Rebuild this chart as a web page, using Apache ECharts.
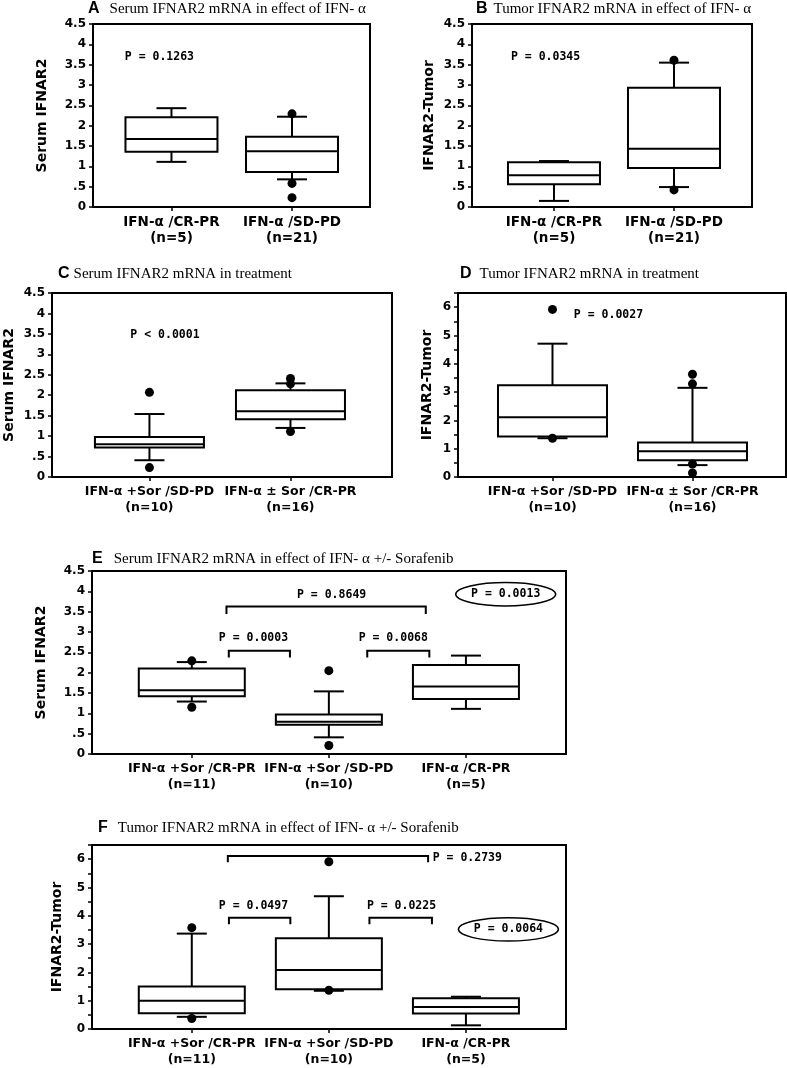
<!DOCTYPE html>
<html><head><meta charset="utf-8">
<script src="https://cdn.jsdelivr.net/npm/echarts@6/dist/echarts.min.js"></script>
<style>html,body{margin:0;padding:0;background:#fff}#chart{width:787px;height:1068px}</style>
</head><body><div id="chart"></div>
<script>
// ---------- tick labels ----------
const serumTicks = ['0', '.5', '1', '1.5', '2', '2.5', '3', '3.5', '4', '4.5'];
const tumorTicks = ['0', '', '1', '', '2', '', '3', '', '4', '', '5', '', '6', ''];

// ---------- categories ----------
const catsAB = ['IFN-α /CR-PR', 'IFN-α /SD-PD'];
const nAB = [5, 21];
const catsCD = ['IFN-α +Sor /SD-PD', 'IFN-α ± Sor /CR-PR'];
const nCD = [10, 16];
const catsEF = ['IFN-α +Sor /CR-PR', 'IFN-α +Sor /SD-PD', 'IFN-α /CR-PR'];
const nEF = [11, 10, 5];

// ---------- box statistics [min, Q1, median, Q3, max] ----------
const boxA = [[1.11, 1.36, 1.67, 2.21, 2.43], [0.68, 0.86, 1.37, 1.73, 2.22]];
const outA = [[1, 2.29], [1, 0.58], [1, 0.23]];
const boxB = [[0.15, 0.56, 0.78, 1.10, 1.13], [0.49, 0.96, 1.43, 2.93, 3.55]];
const outB = [[1, 3.61], [1, 0.42]];
const boxC = [[0.41, 0.72, 0.80, 0.98, 1.54], [1.20, 1.41, 1.61, 2.12, 2.29]];
const outC = [[0, 2.07], [0, 0.23], [1, 2.41], [1, 2.28], [1, 1.11]];
const boxD = [[1.37, 1.43, 2.11, 3.24, 4.71], [0.42, 0.59, 0.91, 1.22, 3.15]];
const outD = [[0, 5.92], [0, 1.37], [1, 3.63], [1, 3.29], [1, 0.46], [1, 0.14]];
const boxE = [[1.29, 1.42, 1.57, 2.10, 2.26], [0.41, 0.72, 0.79, 0.97, 1.54], [1.11, 1.35, 1.66, 2.19, 2.42]];
const outE = [[0, 2.29], [0, 1.15], [1, 2.05], [1, 0.21]];
const boxF = [[0.43, 0.56, 1.00, 1.50, 3.37], [1.35, 1.40, 2.08, 3.21, 4.69], [0.13, 0.55, 0.78, 1.09, 1.14]];
const outF = [[0, 3.58], [0, 0.37], [1, 5.91], [1, 1.37]];

// ---------- p-value annotations ----------
const pTextA = [['P = 0.1263', -0.10, 3.68]];
const pTextB = [['P = 0.0345', -0.07, 3.68]];
const pTextC = [['P < 0.0001', 0.11, 3.47]];
const pTextD = [['P = 0.0027', 0.40, 5.71]];
const pTextE = [['P = 0.8649', 1.02, 3.91], ['P = 0.0003', 0.45, 2.85], ['P = 0.0068', 1.47, 2.85]];
const pTextF = [['P = 0.2739', 2.01, 6.03], ['P = 0.0497', 0.45, 4.35], ['P = 0.0225', 1.53, 4.35]];
const pOvalE = [['P = 0.0013', 2.29, 3.93]];
const pOvalF = [['P = 0.0064', 2.31, 3.52]];
// brackets [x1, yTop, x2, yLeg]
const brE = [[0.253, 3.63, 1.707, 3.44], [0.27, 2.54, 0.716, 2.37], [1.28, 2.54, 1.733, 2.37]];
const brF = [[0.263, 6.11, 1.724, 5.89], [0.271, 3.93, 0.719, 3.70], [1.296, 3.93, 1.752, 3.70]];

// ---------- layout / style ----------
const panels = [
  {id:'A', title:'Serum IFNAR2 mRNA in effect of IFN- α', tx:88, ty:0, gap:10,
   grid:{left:93, top:24, width:277, height:183}, xr:[-0.651, 1.647], cats:catsAB, n:nAB,
   ymax:4.5, ticks:serumTicks, yname:'Serum IFNAR2', nameGap:44, box:boxA, out:outA, bw:92, lf:13.5,
   texts:pTextA},
  {id:'B', title:'Tumor IFNAR2 mRNA in effect of IFN- α', tx:476, ty:0, gap:6,
   grid:{left:472, top:24, width:280, height:183}, xr:[-0.683, 1.65], cats:catsAB, n:nAB,
   ymax:4.5, ticks:serumTicks, yname:'IFNAR2-Tumor', nameGap:36, box:boxB, out:outB, bw:92, lf:13.5,
   texts:pTextB},
  {id:'C', title:'Serum IFNAR2 mRNA in treatment', tx:58, ty:265, gap:4,
   grid:{left:52, top:293, width:340, height:184}, xr:[-0.691, 1.72], cats:catsCD, n:nCD,
   ymax:4.5, ticks:serumTicks, yname:'Serum IFNAR2', nameGap:36, box:boxC, out:outC, bw:109, lf:12.5,
   texts:pTextC},
  {id:'D', title:'Tumor IFNAR2 mRNA in treatment', tx:460, ty:265, gap:8,
   grid:{left:458, top:293, width:328, height:184}, xr:[-0.675, 1.668], cats:catsCD, n:nCD,
   ymax:6.5, ticks:tumorTicks, yname:'IFNAR2-Tumor', nameGap:24, box:boxD, out:outD, bw:109, lf:12.5,
   texts:pTextD},
  {id:'E', title:'Serum IFNAR2 mRNA in effect of IFN- α +/- Sorafenib', tx:92, ty:550, gap:11,
   grid:{left:92, top:571, width:474, height:183}, xr:[-0.728, 2.73], cats:catsEF, n:nEF,
   ymax:4.5, ticks:serumTicks, yname:'Serum IFNAR2', nameGap:44, box:boxE, out:outE, bw:106, lf:12.5,
   texts:pTextE, ovals:pOvalE, brackets:brE},
  {id:'F', title:'Tumor IFNAR2 mRNA in effect of IFN- α +/- Sorafenib', tx:98, ty:819, gap:10,
   grid:{left:92, top:845, width:474, height:184}, xr:[-0.728, 2.73], cats:catsEF, n:nEF,
   ymax:6.5, ticks:tumorTicks, yname:'IFNAR2-Tumor', nameGap:28, box:boxF, out:outF, bw:106, lf:12.5,
   texts:pTextF, ovals:pOvalF, brackets:brF}
];

const BLACK = '#000';
const SANS = 'DejaVu Sans';
const PFONT = 'bold 11.5px "DejaVu Sans Mono", "Liberation Mono", monospace';
const CAPW = 30;

function boxRenderer(boxW) {
  return function (params, api) {
    const x = api.value(0);
    const p = i => api.coord([x, api.value(i)]);
    const lo = p(1), q1 = p(2), md = p(3), q3 = p(4), hi = p(5);
    const cx = lo[0];
    const ls = {stroke: BLACK, lineWidth: 2, fill: null};
    return {type: 'group', children: [
      {type: 'line', shape: {x1: cx, y1: q3[1], x2: cx, y2: hi[1]}, style: ls},
      {type: 'line', shape: {x1: cx - CAPW / 2, y1: hi[1], x2: cx + CAPW / 2, y2: hi[1]}, style: ls},
      {type: 'line', shape: {x1: cx, y1: q1[1], x2: cx, y2: lo[1]}, style: ls},
      {type: 'line', shape: {x1: cx - CAPW / 2, y1: lo[1], x2: cx + CAPW / 2, y2: lo[1]}, style: ls},
      {type: 'rect', shape: {x: cx - boxW / 2, y: q3[1], width: boxW, height: q1[1] - q3[1]},
       style: {fill: '#fff', stroke: BLACK, lineWidth: 2}},
      {type: 'line', shape: {x1: cx - boxW / 2, y1: md[1], x2: cx + boxW / 2, y2: md[1]}, style: ls}
    ]};
  };
}

function textRenderer(list, oval) {
  return function (params, api) {
    const c = api.coord([api.value(0), api.value(1)]);
    const children = [];
    if (oval) {
      const rx = 50, ry = 11.7;
      const d = `M ${c[0] - rx} ${c[1]} A ${rx} ${ry} 0 1 0 ${c[0] + rx} ${c[1]} A ${rx} ${ry} 0 1 0 ${c[0] - rx} ${c[1]} Z`;
      children.push({type: 'path', shape: {pathData: d}, style: {fill: null, stroke: BLACK, lineWidth: 1.5}});
    }
    children.push({type: 'text', style: {text: list[params.dataIndex][0], x: c[0], y: c[1],
      align: 'center', verticalAlign: 'middle', font: PFONT, fill: BLACK}});
    return {type: 'group', children};
  };
}

function bracketRenderer(params, api) {
  const a = api.coord([api.value(0), api.value(3)]);
  const b = api.coord([api.value(0), api.value(1)]);
  const c = api.coord([api.value(2), api.value(1)]);
  const d = api.coord([api.value(2), api.value(3)]);
  return {type: 'polyline', shape: {points: [a, b, c, d]}, style: {stroke: BLACK, lineWidth: 2, fill: null}};
}

const option = {animation: false, backgroundColor: '#fff',
  title: [], grid: [], xAxis: [], yAxis: [], series: []};

panels.forEach((P, k) => {
  option.title.push({
    left: P.tx, top: P.ty, padding: 0,
    text: `{l|${P.id}}{t|${P.title}}`,
    textStyle: {fontWeight: 'normal', rich: {
      l: {fontFamily: 'Liberation Sans', fontWeight: 'bold', fontSize: 16, lineHeight: 18, padding: [0, P.gap, 0, 0], color: BLACK},
      t: {fontFamily: 'Liberation Serif', fontWeight: 'normal', fontSize: 15, lineHeight: 18, color: BLACK}
    }}
  });
  option.grid.push(Object.assign({show: true, borderColor: BLACK, borderWidth: 2, backgroundColor: 'transparent', containLabel: false}, P.grid));
  const idxs = P.cats.map((_, i) => i);
  option.xAxis.push({
    type: 'value', gridIndex: k, min: P.xr[0], max: P.xr[1],
    splitLine: {show: false},
    axisLine: {show: true, onZero: false, lineStyle: {color: BLACK, width: 2}},
    axisTick: {show: true, customValues: idxs, length: 4, lineStyle: {color: BLACK, width: 1.5}},
    axisLabel: {show: true, customValues: idxs, margin: 7, color: BLACK,
      fontFamily: SANS, fontWeight: 'bold', fontSize: P.lf, lineHeight: 16,
      formatter: v => { const i = Math.round(v); return P.cats[i] + '\n(n=' + P.n[i] + ')'; }}
  });
  option.yAxis.push({
    type: 'value', gridIndex: k, min: 0, max: P.ymax, interval: 0.5,
    splitLine: {show: false},
    axisLine: {show: true, onZero: false, lineStyle: {color: BLACK, width: 2}},
    axisTick: {show: true, length: 4, lineStyle: {color: BLACK, width: 1.5}},
    axisLabel: {color: BLACK, fontFamily: SANS, fontWeight: 'bold', fontSize: 12, margin: 7,
      formatter: v => { const t = P.ticks[Math.round(v / 0.5)]; return t == null ? '' : t; }},
    name: P.yname, nameLocation: 'middle', nameGap: P.nameGap,
    nameTextStyle: {color: BLACK, fontFamily: SANS, fontWeight: 'bold', fontSize: 14}
  });
  option.series.push({
    type: 'custom', xAxisIndex: k, yAxisIndex: k, renderItem: boxRenderer(P.bw),
    encode: {x: 0, y: [1, 2, 3, 4, 5]}, z: 2,
    data: P.box.map((s, i) => [i].concat(s))
  });
  option.series.push({
    type: 'scatter', xAxisIndex: k, yAxisIndex: k, symbol: 'circle', symbolSize: 9,
    itemStyle: {color: BLACK, opacity: 1}, z: 5, silent: true, data: P.out
  });
  option.series.push({
    type: 'custom', xAxisIndex: k, yAxisIndex: k, renderItem: textRenderer(P.texts, false),
    encode: {x: 0, y: 1}, z: 6, data: P.texts.map(t => [t[1], t[2]])
  });
  if (P.ovals) option.series.push({
    type: 'custom', xAxisIndex: k, yAxisIndex: k, renderItem: textRenderer(P.ovals, true),
    encode: {x: 0, y: 1}, z: 6, data: P.ovals.map(t => [t[1], t[2]])
  });
  if (P.brackets) option.series.push({
    type: 'custom', xAxisIndex: k, yAxisIndex: k, renderItem: bracketRenderer,
    encode: {x: [0, 2], y: [1, 3]}, z: 6, data: P.brackets
  });
});

const chart = echarts.init(document.getElementById('chart'), null, {renderer: 'canvas'});
chart.setOption(option);
</script></body></html>
